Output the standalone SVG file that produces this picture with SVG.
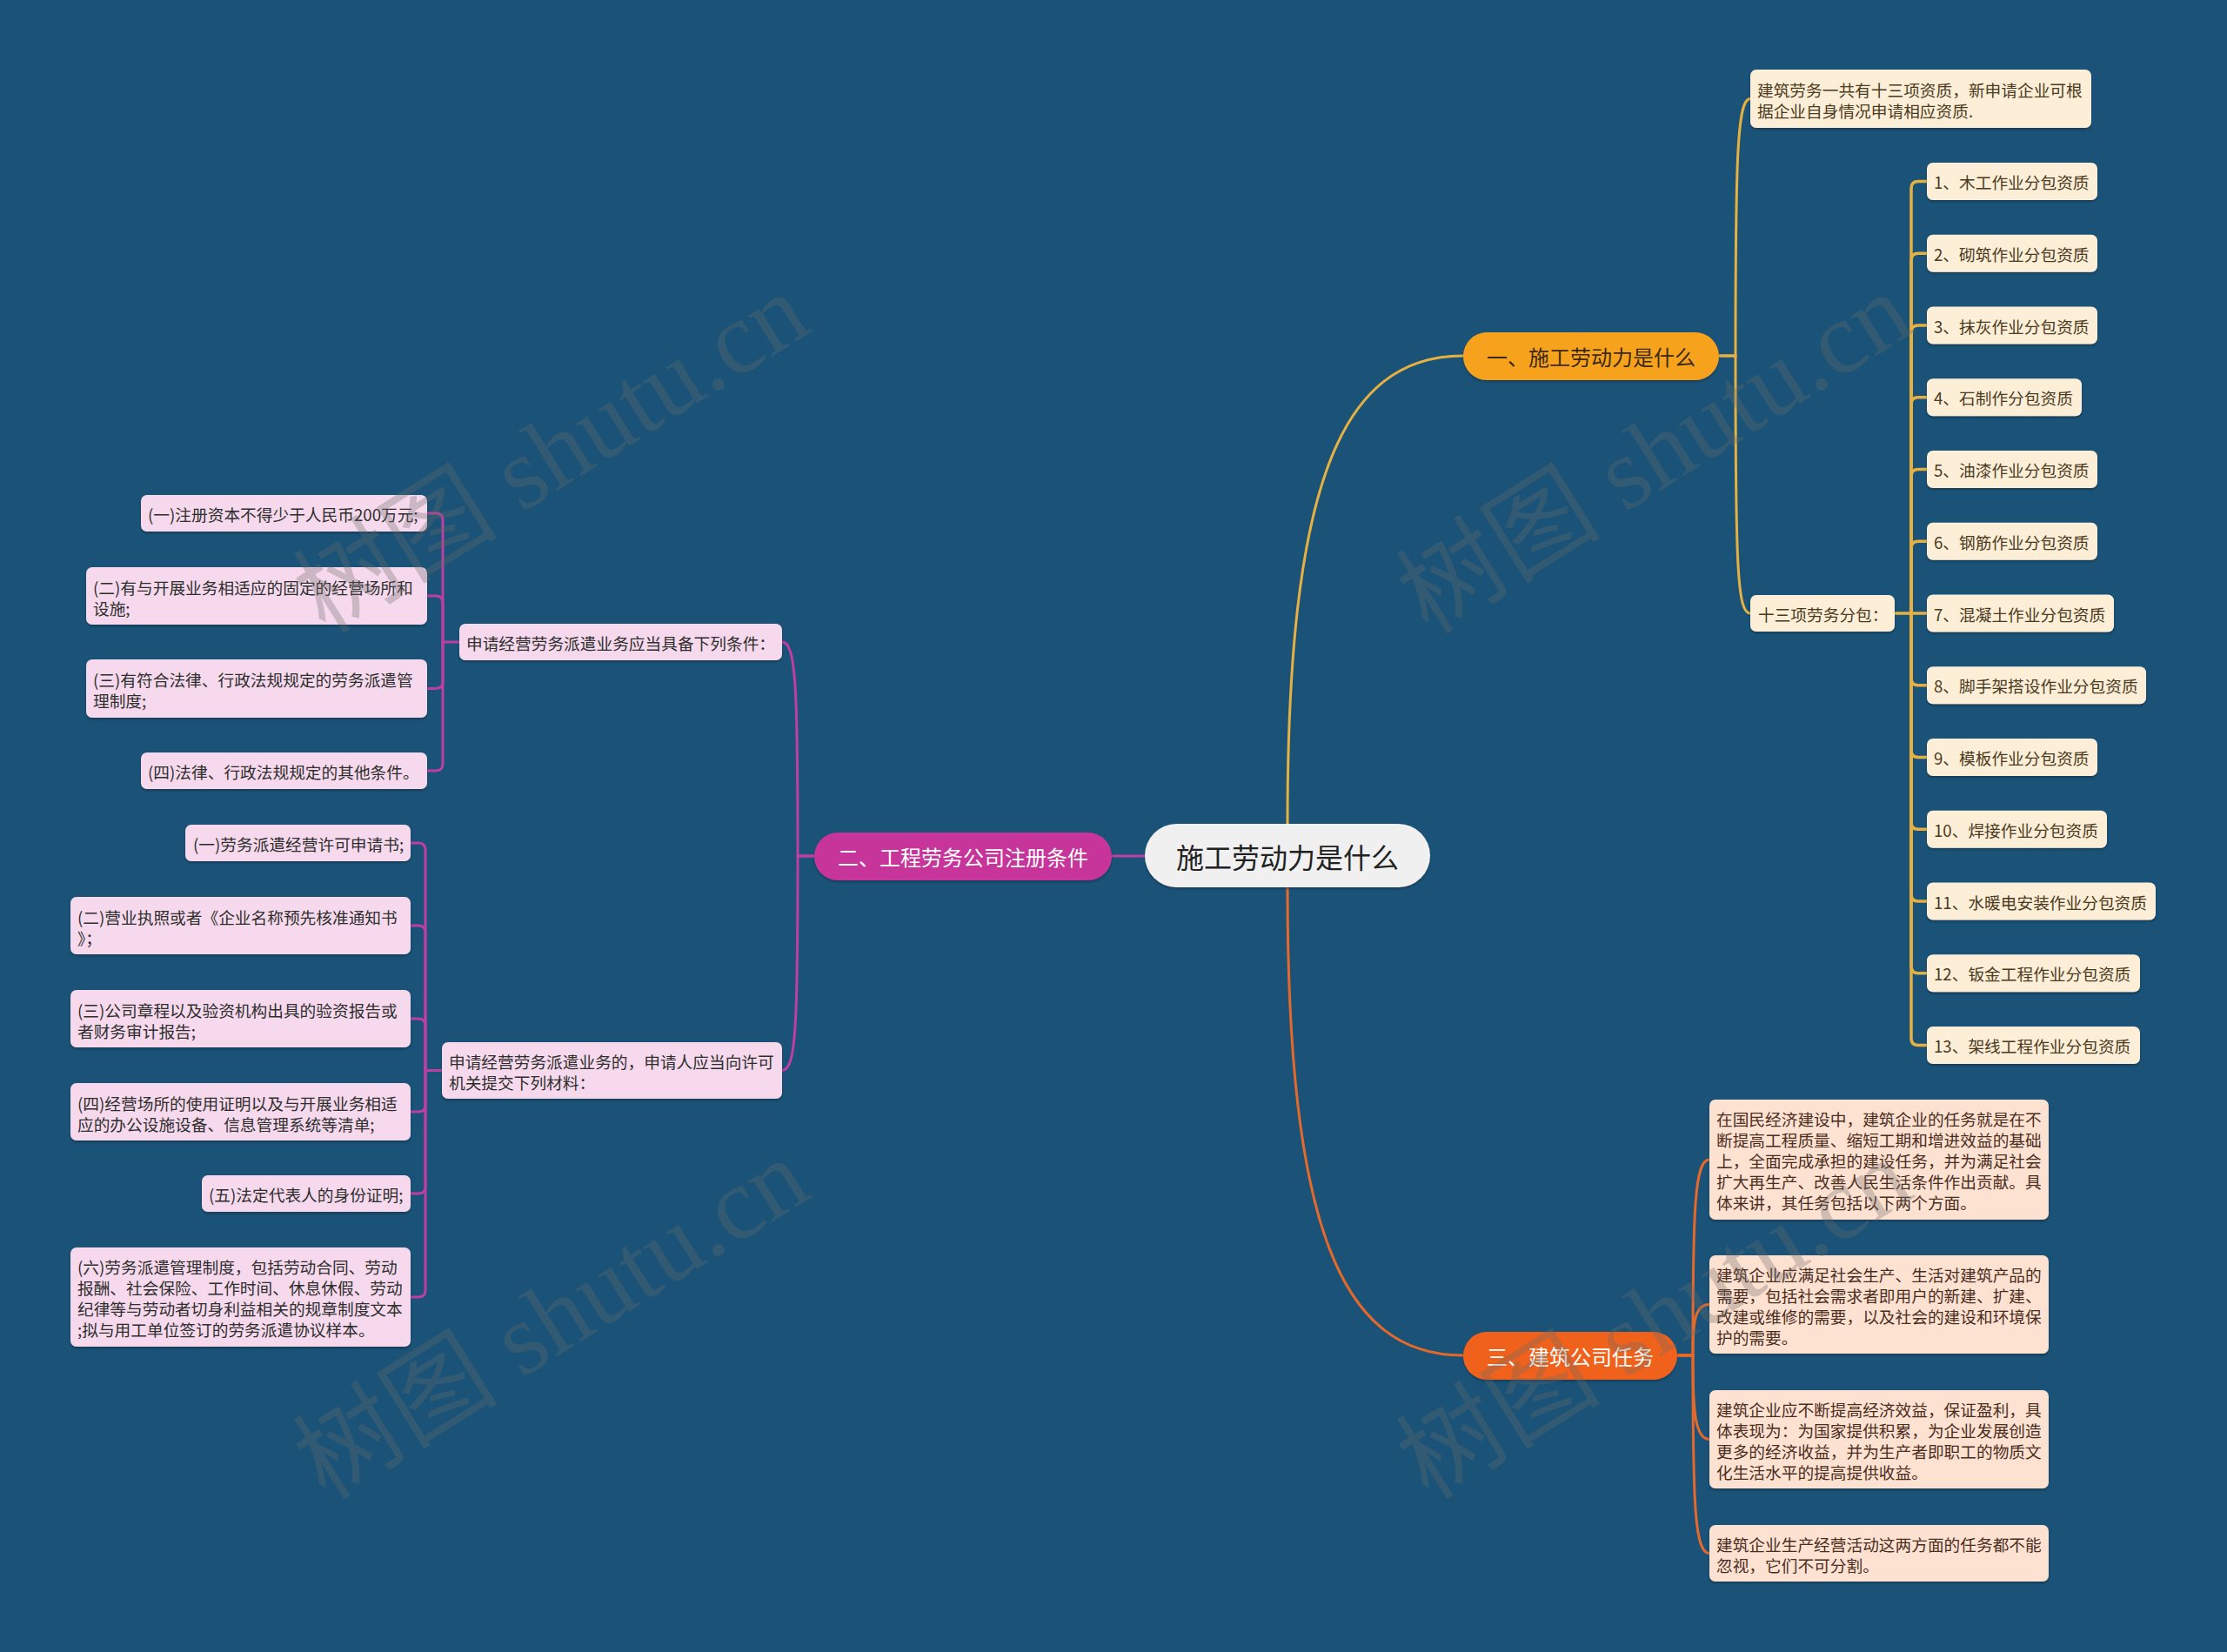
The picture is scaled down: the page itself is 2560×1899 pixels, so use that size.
<svg xmlns="http://www.w3.org/2000/svg" width="2560" height="1899" viewBox="0 0 2560 1899">
<defs>
<filter id="sh" x="-10%" y="-10%" width="120%" height="140%"><feDropShadow dx="0" dy="2" stdDeviation="1" flood-color="#0a2a3e" flood-opacity="0.55"/></filter>
<style>
text{font-family:"Noto Sans CJK SC","Noto Sans",sans-serif;dominant-baseline:central;}
.s{font-size:18.7px;}
.t1{fill:#4b3a1e;}
.t2{fill:#2e2e2e;}
.t3{fill:#4b2d1e;}
.b1{fill:#fdefd7;filter:url(#sh);}
.b2{fill:#f6d9ec;filter:url(#sh);}
.b3{fill:#fde1d1;filter:url(#sh);}
.c{fill:none;stroke-width:3;stroke-linecap:round;}
.cy{stroke:#e6b142;}
.cp{stroke:#bd3fa2;}
.co{stroke:#e5692b;}
.wm{font-family:"Liberation Serif","Noto Sans CJK SC",serif;font-size:118px;fill:#6a6a6a;opacity:0.3;dominant-baseline:auto;}
</style>
</defs>
<rect x="0" y="0" width="2560" height="1899" fill="#1a5377"/>

<g id="connectors">
<path class="c cy" d="M1480,947 C1480,560 1540,409 1682,409"/>
<path class="c co" d="M1480,1020 C1480,1407 1540,1558 1682,1558"/>
<path class="c cp" d="M1316,984 H1278"/>
<!-- branch 1 -->
<path class="c cy" d="M1976,409 H1995 C1995,180 1997,113.5 2012,113.5"/>
<path class="c cy" d="M1976,409 H1995 C1995,650 1997,705 2012,705"/>
<g class="c cy" style="stroke-width:3.5">
<path d="M2178,705 H2215"/>
<path d="M2197,705 V216.5 Q2197,208.5 2205,208.5 H2215"/>
<path d="M2197,705 V299.25 Q2197,291.25 2205,291.25 H2215"/>
<path d="M2197,705 V382 Q2197,374 2205,374 H2215"/>
<path d="M2197,705 V464.75 Q2197,456.75 2205,456.75 H2215"/>
<path d="M2197,705 V547.5 Q2197,539.5 2205,539.5 H2215"/>
<path d="M2197,705 V630.25 Q2197,622.25 2205,622.25 H2215"/>
<path d="M2197,705 V779.75 Q2197,787.75 2205,787.75 H2215"/>
<path d="M2197,705 V862.5 Q2197,870.5 2205,870.5 H2215"/>
<path d="M2197,705 V945.25 Q2197,953.25 2205,953.25 H2215"/>
<path d="M2197,705 V1028 Q2197,1036 2205,1036 H2215"/>
<path d="M2197,705 V1110.75 Q2197,1118.75 2205,1118.75 H2215"/>
<path d="M2197,705 V1193.5 Q2197,1201.5 2205,1201.5 H2215"/>
</g>
<!-- branch 2 -->
<path class="c cp" d="M936,984 H917 C917,790 915,738 899,738"/>
<path class="c cp" d="M936,984 H917 C917,1180 915,1230.5 899,1230.5"/>
<path class="c cp" d="M528,738 H509"/>
<path class="c cp" d="M509,738 V598 Q509,590 501,590 H491"/>
<path class="c cp" d="M509,738 V693 Q509,685 501,685 H491"/>
<path class="c cp" d="M509,738 V783.5 Q509,791.5 501,791.5 H491"/>
<path class="c cp" d="M509,738 V878 Q509,886 501,886 H491"/>
<path class="c cp" d="M508,1230.5 H489"/>
<path class="c cp" d="M489,1230.5 V977 Q489,969 481,969 H472"/>
<path class="c cp" d="M489,1230.5 V1072 Q489,1064 481,1064 H472"/>
<path class="c cp" d="M489,1230.5 V1179 Q489,1171 481,1171 H472"/>
<path class="c cp" d="M489,1230.5 V1270 Q489,1278 481,1278 H472"/>
<path class="c cp" d="M489,1230.5 V1364 Q489,1372 481,1372 H472"/>
<path class="c cp" d="M489,1230.5 V1483 Q489,1491 481,1491 H472"/>
<!-- branch 3 -->
<path class="c co" d="M1928,1558 H1946 C1946,1390 1948,1333 1965,1333"/>
<path class="c co" d="M1928,1558 H1946 C1946,1520 1948,1499.5 1965,1499.5"/>
<path class="c co" d="M1928,1558 H1946 C1946,1620 1948,1654.5 1965,1654.5"/>
<path class="c co" d="M1928,1558 H1946 C1946,1730 1948,1785.5 1965,1785.5"/>
</g>

<g id="root">
<rect x="1316" y="947" width="328" height="73" rx="36.5" fill="#f0f0f0" filter="url(#sh)"/>
<text x="1480" y="984" text-anchor="middle" font-size="32" fill="#222">施工劳动力是什么</text>
</g>

<g id="branch1">
<rect x="1682" y="382" width="294" height="55" rx="27.5" fill="#f7a21c" filter="url(#sh)"/>
<text x="1829" y="409.5" text-anchor="middle" font-size="24" fill="#3b2a12">一、施工劳动力是什么</text>
</g>
<g id="branch2">
<rect x="936" y="957" width="342" height="55" rx="27.5" fill="#c7369a" filter="url(#sh)"/>
<text x="1107" y="984.5" text-anchor="middle" font-size="24" fill="#ffffff">二、工程劳务公司注册条件</text>
</g>
<g id="branch3">
<rect x="1682" y="1531" width="246" height="55" rx="27.5" fill="#f0621f" filter="url(#sh)"/>
<text x="1805" y="1558.5" text-anchor="middle" font-size="24" fill="#ffffff">三、建筑公司任务</text>
</g>

<g id="a1">
<rect class="b1" x="2012" y="80" width="392" height="67" rx="7"/>
<text class="s t1"><tspan x="2020" y="102">建筑劳务一共有十三项资质，新申请企业可根</tspan><tspan x="2020" y="126">据企业自身情况申请相应资质.</tspan></text>
</g>
<g id="a2">
<rect class="b1" x="2012" y="684" width="166" height="42" rx="7"/>
<text class="s t1" x="2021" y="705">十三项劳务分包：</text>
</g>
<g id="item1"><rect class="b1" x="2215" y="187" width="196" height="43" rx="7"/><text class="s t1" x="2223" y="208.5">1、木工作业分包资质</text></g>
<g id="item2"><rect class="b1" x="2215" y="269.75" width="196" height="43" rx="7"/><text class="s t1" x="2223" y="291.25">2、砌筑作业分包资质</text></g>
<g id="item3"><rect class="b1" x="2215" y="352.5" width="196" height="43" rx="7"/><text class="s t1" x="2223" y="374">3、抹灰作业分包资质</text></g>
<g id="item4"><rect class="b1" x="2215" y="435.25" width="178" height="43" rx="7"/><text class="s t1" x="2223" y="456.75">4、石制作分包资质</text></g>
<g id="item5"><rect class="b1" x="2215" y="518" width="196" height="43" rx="7"/><text class="s t1" x="2223" y="539.5">5、油漆作业分包资质</text></g>
<g id="item6"><rect class="b1" x="2215" y="600.75" width="196" height="43" rx="7"/><text class="s t1" x="2223" y="622.25">6、钢筋作业分包资质</text></g>
<g id="item7"><rect class="b1" x="2215" y="683.5" width="215" height="43" rx="7"/><text class="s t1" x="2223" y="705">7、混凝土作业分包资质</text></g>
<g id="item8"><rect class="b1" x="2215" y="766.25" width="252" height="43" rx="7"/><text class="s t1" x="2223" y="787.75">8、脚手架搭设作业分包资质</text></g>
<g id="item9"><rect class="b1" x="2215" y="849" width="196" height="43" rx="7"/><text class="s t1" x="2223" y="870.5">9、模板作业分包资质</text></g>
<g id="item10"><rect class="b1" x="2215" y="931.75" width="207" height="43" rx="7"/><text class="s t1" x="2223" y="953.25">10、焊接作业分包资质</text></g>
<g id="item11"><rect class="b1" x="2215" y="1014.5" width="263" height="43" rx="7"/><text class="s t1" x="2223" y="1036">11、水暖电安装作业分包资质</text></g>
<g id="item12"><rect class="b1" x="2215" y="1097.25" width="245" height="43" rx="7"/><text class="s t1" x="2223" y="1118.75">12、钣金工程作业分包资质</text></g>
<g id="item13"><rect class="b1" x="2215" y="1180" width="245" height="43" rx="7"/><text class="s t1" x="2223" y="1201.5">13、架线工程作业分包资质</text></g>

<g id="c1">
<rect class="b2" x="528" y="717" width="371" height="42" rx="7"/>
<text class="s t2" x="536" y="738">申请经营劳务派遣业务应当具备下列条件：</text>
</g>
<g id="c2">
<rect class="b2" x="508" y="1198" width="391" height="65" rx="7"/>
<text class="s t2"><tspan x="516" y="1219">申请经营劳务派遣业务的，申请人应当向许可</tspan><tspan x="516" y="1243">机关提交下列材料：</tspan></text>
</g>
<g id="d1"><rect class="b2" x="162" y="569" width="329" height="42" rx="7"/><text class="s t2" x="170" y="590">(一)注册资本不得少于人民币200万元;</text></g>
<g id="d2"><rect class="b2" x="99" y="652" width="392" height="66" rx="7"/><text class="s t2"><tspan x="107" y="673.5">(二)有与开展业务相适应的固定的经营场所和</tspan><tspan x="107" y="697.5">设施;</tspan></text></g>
<g id="d3"><rect class="b2" x="99" y="758" width="392" height="67" rx="7"/><text class="s t2"><tspan x="107" y="780">(三)有符合法律、行政法规规定的劳务派遣管</tspan><tspan x="107" y="804">理制度;</tspan></text></g>
<g id="d4"><rect class="b2" x="162" y="865" width="329" height="42" rx="7"/><text class="s t2" x="170" y="886">(四)法律、行政法规规定的其他条件。</text></g>
<g id="e1"><rect class="b2" x="213" y="948" width="259" height="42" rx="7"/><text class="s t2" x="222" y="969">(一)劳务派遣经营许可申请书;</text></g>
<g id="e2"><rect class="b2" x="81" y="1031" width="391" height="66" rx="7"/><text class="s t2"><tspan x="89" y="1052.5">(二)营业执照或者《企业名称预先核准通知书</tspan><tspan x="89" y="1076.5">》；</tspan></text></g>
<g id="e3"><rect class="b2" x="81" y="1138" width="391" height="66" rx="7"/><text class="s t2"><tspan x="89" y="1159.5">(三)公司章程以及验资机构出具的验资报告或</tspan><tspan x="89" y="1183.5">者财务审计报告;</tspan></text></g>
<g id="e4"><rect class="b2" x="81" y="1245" width="391" height="66" rx="7"/><text class="s t2"><tspan x="89" y="1266.5">(四)经营场所的使用证明以及与开展业务相适</tspan><tspan x="89" y="1290.5">应的办公设施设备、信息管理系统等清单;</tspan></text></g>
<g id="e5"><rect class="b2" x="232" y="1351" width="240" height="42" rx="7"/><text class="s t2" x="240" y="1372">(五)法定代表人的身份证明;</text></g>
<g id="e6"><rect class="b2" x="81" y="1434" width="391" height="114" rx="7"/><text class="s t2"><tspan x="89" y="1455">(六)劳务派遣管理制度，包括劳动合同、劳动</tspan><tspan x="89" y="1479">报酬、社会保险、工作时间、休息休假、劳动</tspan><tspan x="89" y="1503">纪律等与劳动者切身利益相关的规章制度文本</tspan><tspan x="89" y="1527">;拟与用工单位签订的劳务派遣协议样本。</tspan></text></g>

<g id="f1"><rect class="b3" x="1965" y="1264" width="390" height="138" rx="7"/><text class="s t3"><tspan x="1973" y="1285">在国民经济建设中，建筑企业的任务就是在不</tspan><tspan x="1973" y="1309">断提高工程质量、缩短工期和增进效益的基础</tspan><tspan x="1973" y="1333">上，全面完成承担的建设任务，并为满足社会</tspan><tspan x="1973" y="1357">扩大再生产、改善人民生活条件作出贡献。具</tspan><tspan x="1973" y="1381">体来讲，其任务包括以下两个方面。</tspan></text></g>
<g id="f2"><rect class="b3" x="1965" y="1443" width="390" height="113" rx="7"/><text class="s t3"><tspan x="1973" y="1463.5">建筑企业应满足社会生产、生活对建筑产品的</tspan><tspan x="1973" y="1487.5">需要，包括社会需求者即用户的新建、扩建、</tspan><tspan x="1973" y="1511.5">改建或维修的需要，以及社会的建设和环境保</tspan><tspan x="1973" y="1535.5">护的需要。</tspan></text></g>
<g id="f3"><rect class="b3" x="1965" y="1598" width="390" height="113" rx="7"/><text class="s t3"><tspan x="1973" y="1618.5">建筑企业应不断提高经济效益，保证盈利，具</tspan><tspan x="1973" y="1642.5">体表现为：为国家提供积累，为企业发展创造</tspan><tspan x="1973" y="1666.5">更多的经济收益，并为生产者即职工的物质文</tspan><tspan x="1973" y="1690.5">化生活水平的提高提供收益。</tspan></text></g>
<g id="f4"><rect class="b3" x="1965" y="1753" width="390" height="65" rx="7"/><text class="s t3"><tspan x="1973" y="1773.5">建筑企业生产经营活动这两方面的任务都不能</tspan><tspan x="1973" y="1797.5">忽视，它们不可分割。</tspan></text></g>

<g id="watermarks">
<text class="wm" text-anchor="middle" transform="translate(655,555) rotate(-32)">树图 shutu.cn</text>
<text class="wm" text-anchor="middle" transform="translate(1923,555) rotate(-32)">树图 shutu.cn</text>
<text class="wm" text-anchor="middle" transform="translate(655,1550) rotate(-32)">树图 shutu.cn</text>
<text class="wm" text-anchor="middle" transform="translate(1923,1550) rotate(-32)">树图 shutu.cn</text>
</g>
</svg>
